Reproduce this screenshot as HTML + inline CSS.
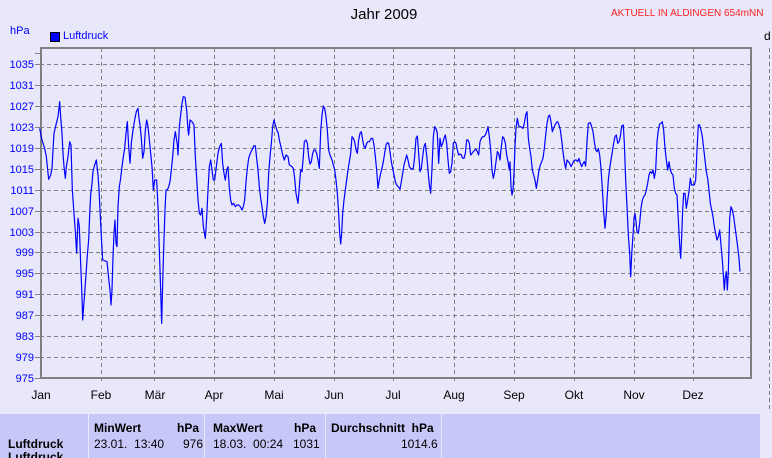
<!DOCTYPE html>
<html><head><meta charset="utf-8"><style>
html,body{margin:0;padding:0;width:772px;height:458px;overflow:hidden;}
body{background:#e8e8fa;position:relative;font-family:"Liberation Sans",sans-serif;}
.a{position:absolute;white-space:nowrap;}
.tb{position:absolute;top:414px;height:44px;background:#c8c8f8;}
.b{font-weight:bold;font-size:12px;color:#000;}
.n{font-size:12px;color:#000;}
</style></head><body>
<div class="a" style="left:0;width:768px;top:6px;text-align:center;font-size:15px;color:#000;">Jahr 2009</div>
<div class="a" style="left:611px;top:8px;font-size:10px;color:#ff2020;">AKTUELL IN ALDINGEN 654mNN</div>
<div class="a" style="left:10px;top:25px;font-size:11px;color:#0000ff;">hPa</div>
<div class="a" style="left:50px;top:32px;width:10px;height:10px;background:#0000ff;border:1px solid #000;box-sizing:border-box;"></div>
<div class="a" style="left:63px;top:30px;font-size:11px;color:#0000ff;">Luftdruck</div>
<div class="a" style="left:764px;top:29px;font-size:12px;color:#000;">d</div>
<svg class="a" style="left:0;top:0" width="772" height="458">
<g stroke="#808080" stroke-dasharray="4,3" stroke-width="1" fill="none">
<line x1="769.5" y1="48" x2="769.5" y2="410"/>
</g>
<g id="grid" stroke="#808080" stroke-dasharray="4,3" stroke-width="1">
<line x1="40" x2="751" y1="64.5" y2="64.5"/><line x1="40" x2="751" y1="85.5" y2="85.5"/><line x1="40" x2="751" y1="106.5" y2="106.5"/><line x1="40" x2="751" y1="127.5" y2="127.5"/><line x1="40" x2="751" y1="148.5" y2="148.5"/><line x1="40" x2="751" y1="169.5" y2="169.5"/><line x1="40" x2="751" y1="190.5" y2="190.5"/><line x1="40" x2="751" y1="211.5" y2="211.5"/><line x1="40" x2="751" y1="232.5" y2="232.5"/><line x1="40" x2="751" y1="252.5" y2="252.5"/><line x1="40" x2="751" y1="273.5" y2="273.5"/><line x1="40" x2="751" y1="294.5" y2="294.5"/><line x1="40" x2="751" y1="315.5" y2="315.5"/><line x1="40" x2="751" y1="336.5" y2="336.5"/><line x1="40" x2="751" y1="357.5" y2="357.5"/>
<line y1="48" y2="384" x1="101.5" x2="101.5"/><line y1="48" y2="384" x1="154.5" x2="154.5"/><line y1="48" y2="384" x1="214.5" x2="214.5"/><line y1="48" y2="384" x1="274.5" x2="274.5"/><line y1="48" y2="384" x1="334.5" x2="334.5"/><line y1="48" y2="384" x1="393.5" x2="393.5"/><line y1="48" y2="384" x1="454.5" x2="454.5"/><line y1="48" y2="384" x1="514.5" x2="514.5"/><line y1="48" y2="384" x1="574.5" x2="574.5"/><line y1="48" y2="384" x1="634.5" x2="634.5"/><line y1="48" y2="384" x1="693.5" x2="693.5"/>
</g>
<g stroke="#808080" stroke-width="1">
<line x1="35" x2="40" y1="53.5" y2="53.5"/><line x1="35" x2="40" y1="64.5" y2="64.5"/><line x1="35" x2="40" y1="85.5" y2="85.5"/><line x1="35" x2="40" y1="106.5" y2="106.5"/><line x1="35" x2="40" y1="127.5" y2="127.5"/><line x1="35" x2="40" y1="148.5" y2="148.5"/><line x1="35" x2="40" y1="169.5" y2="169.5"/><line x1="35" x2="40" y1="190.5" y2="190.5"/><line x1="35" x2="40" y1="211.5" y2="211.5"/><line x1="35" x2="40" y1="232.5" y2="232.5"/><line x1="35" x2="40" y1="252.5" y2="252.5"/><line x1="35" x2="40" y1="273.5" y2="273.5"/><line x1="35" x2="40" y1="294.5" y2="294.5"/><line x1="35" x2="40" y1="315.5" y2="315.5"/><line x1="35" x2="40" y1="336.5" y2="336.5"/><line x1="35" x2="40" y1="357.5" y2="357.5"/><line x1="35" x2="40" y1="378.5" y2="378.5"/>
</g>
<rect x="41" y="48" width="710" height="330" fill="none" stroke="#808080" stroke-width="2"/>
<g fill="#0000ff" font-size="11" text-anchor="end" font-family="Liberation Sans, sans-serif">
<text x="34" y="68">1035</text><text x="34" y="89">1031</text><text x="34" y="110">1027</text><text x="34" y="131">1023</text><text x="34" y="152">1019</text><text x="34" y="173">1015</text><text x="34" y="194">1011</text><text x="34" y="215">1007</text><text x="34" y="236">1003</text><text x="34" y="256">999</text><text x="34" y="277">995</text><text x="34" y="298">991</text><text x="34" y="319">987</text><text x="34" y="340">983</text><text x="34" y="361">979</text><text x="34" y="382">975</text>
</g>
<g fill="#000" font-size="12" text-anchor="middle" font-family="Liberation Sans, sans-serif">
<text x="41" y="399">Jan</text><text x="101" y="399">Feb</text><text x="155" y="399">Mär</text><text x="214" y="399">Apr</text><text x="274" y="399">Mai</text><text x="334" y="399">Jun</text><text x="393" y="399">Jul</text><text x="454" y="399">Aug</text><text x="514" y="399">Sep</text><text x="574" y="399">Okt</text><text x="634" y="399">Nov</text><text x="693" y="399">Dez</text>
</g>
<g fill="none" stroke="#0000ff" stroke-width="1.2" stroke-linejoin="round">
<polyline vector-effect="non-scaling-stroke" transform="translate(38,90) scale(0.33333)" points="5,115 12,150 20,175 25,200 32,268 38,255 42,235 45,180 48,130 55,100 60,80 65,35 68,80 72,130 75,190 78,230 82,265 85,230 90,200 95,155 99,165 103,300 108,370 112,425 116,490 120,385 124,410 128,520 132,620 134,690 137,650 140,610 145,540 148,495 152,450 155,375 158,315 162,280 165,245 170,225 175,210 180,255 183,300 187,380 190,440 194,510 207,515 212,565 216,600 219,645 222,600 225,500 228,430 231,390 234,460 237,470 240,350 244,290 248,265 252,230 256,200 260,175 264,130 268,95 272,170 276,220 280,160 285,120 290,90 295,65 300,55 303,85 306,105 310,145 314,205 318,185 322,120 326,90 330,110 334,150 338,190 342,230 346,300 350,270 356,270 360,350 364,480 368,600 371,700 374,580 377,480 381,360 384,300 388,300 392,290 396,275 400,240 404,200 408,150 412,125 418,165 420,195 424,110 428,75 432,40 436,20 441,22 446,60 450,120 452,135 456,90 462,95 468,105 472,200 476,265 480,330 484,370 488,375 492,355 496,410 502,445 506,385 510,300 514,230 518,210 522,240 526,270 530,270 535,230 540,190 545,170 550,160 554,220 558,250 562,270 566,240 570,230 574,295 578,330 582,345 587,340 592,350 597,345 602,345 607,350 612,360 616,350 620,330 624,275 628,235 632,205 637,190 642,180 648,167 652,168 656,205 660,240 664,290 668,325 672,350 676,380 680,400 684,380 688,340 692,250 696,200 700,160 704,110 708,90 712,105 718,125 720,125"/>
<polyline vector-effect="non-scaling-stroke" transform="translate(270,90) scale(0.33333)" points="24,125 28,150 34,175 38,195 43,210 48,195 54,200 58,225 64,228 70,235 74,265 78,310 84,340 88,290 92,240 96,245 100,200 103,155 108,150 112,160 116,200 120,222 124,215 128,190 132,180 136,180 140,190 144,210 148,235 152,125 156,75 160,48 164,55 168,80 172,120 176,180 180,195 186,210 190,225 194,240 198,270 202,310 206,370 209,430 212,462 215,430 218,370 222,330 226,300 230,270 234,240 238,215 242,190 246,140 250,145 254,155 258,180 262,190 266,150 270,130 274,125 278,150 282,170 286,175 290,160 294,155 298,155 304,145 308,145 312,165 316,200 320,240 324,295 328,270 332,250 336,235 340,215 344,190 348,165 352,158 356,160 360,185 364,215 368,235 372,255 376,275 380,285 385,290 390,298 394,275 398,250 402,225 406,210 410,195 414,210 418,230 424,238 430,235 434,200 438,145 442,138 446,190 450,245 454,235 458,200 462,170 466,160 470,195 474,240 478,285 482,310 486,235 490,140 494,110 498,115 502,130 506,220 510,145 514,170 518,160 522,145 526,135 530,160 534,210 538,250 542,245 546,220 550,160 554,155 558,160 562,180 566,195 570,192 574,195 578,205 582,205 586,190 590,150 594,150 598,160 602,195 606,190 610,185 614,180 618,178 622,185 626,195 630,155 634,145 638,140 642,140 646,135 650,125 654,110 658,140 662,180 666,240 670,265 674,245 678,215 682,185 686,190 690,210 694,170 698,140 702,145 706,160 710,195 714,215 718,240 720,215"/>
<polyline vector-effect="non-scaling-stroke" transform="translate(505,90) scale(0.33333)" points="15,215 18,290 21,315 24,300 27,250 30,170 33,115 37,85 41,108 46,110 50,112 54,115 58,100 62,75 66,65 70,145 74,175 78,200 82,240 86,255 90,270 94,295 98,270 102,240 106,225 110,215 114,205 118,175 122,135 126,100 130,80 134,75 138,95 142,125 146,115 150,105 154,98 158,95 162,105 166,120 170,150 174,185 178,215 182,235 186,210 190,215 194,220 198,230 202,222 206,213 210,210 214,210 218,215 222,205 226,220 230,230 234,220 238,215 242,228 246,155 250,100 256,98 260,110 264,125 268,155 272,180 276,185 280,175 284,195 288,235 292,295 296,365 300,415 304,370 306,330 310,270 314,235 318,210 322,185 326,160 330,140 334,135 338,160 342,155 346,140 350,108 355,105 358,160 362,270 366,350 370,435 374,490 377,560 380,495 384,435 387,385 390,370 393,395 396,425 400,430 404,400 408,355 412,330 416,320 420,315 424,300 428,280 432,255 436,245 440,250 444,240 448,265 452,240 456,155 460,120 464,102 468,100 472,95 476,120 480,175 484,210 488,240 492,215 496,240 500,250 504,255 508,295 512,310 516,315 520,390 524,465 527,505 530,440 533,360 536,310 540,310 544,355 548,330 552,305 556,265 560,285 564,285 568,285 572,270 576,180 580,105 584,105 588,120 592,140 596,175 600,210 604,245 608,265 612,300 616,340 620,360 624,380 628,410 632,430 636,450 640,440 644,420 648,465 652,510 656,570 658,600 661,560 664,545 667,600 670,545 674,385 678,350 682,360 686,380 690,410 694,440 698,470 702,505 705,545"/>
</g>
</svg>
<div class="tb" style="left:0;width:88px;"></div>
<div class="tb" style="left:89px;width:115px;"></div>
<div class="tb" style="left:205px;width:120px;"></div>
<div class="tb" style="left:326px;width:115px;"></div>
<div class="tb" style="left:442px;width:318px;"></div>
<div class="a b" style="left:8px;top:437px;">Luftdruck</div>
<div class="a b" style="left:8px;top:450px;">Luftdruck</div>
<div class="a b" style="left:94px;top:421px;">MinWert</div>
<div class="a b" style="left:177px;top:421px;">hPa</div>
<div class="a n" style="left:94px;top:437px;">23.01.&nbsp; 13:40</div>
<div class="a n" style="left:183px;top:437px;">976</div>
<div class="a b" style="left:213px;top:421px;">MaxWert</div>
<div class="a b" style="left:294px;top:421px;">hPa</div>
<div class="a n" style="left:213px;top:437px;">18.03.&nbsp; 00:24</div>
<div class="a n" style="left:293px;top:437px;">1031</div>
<div class="a b" style="left:331px;top:421px;">Durchschnitt&nbsp; hPa</div>
<div class="a n" style="left:401px;top:437px;">1014.6</div>
</body></html>
